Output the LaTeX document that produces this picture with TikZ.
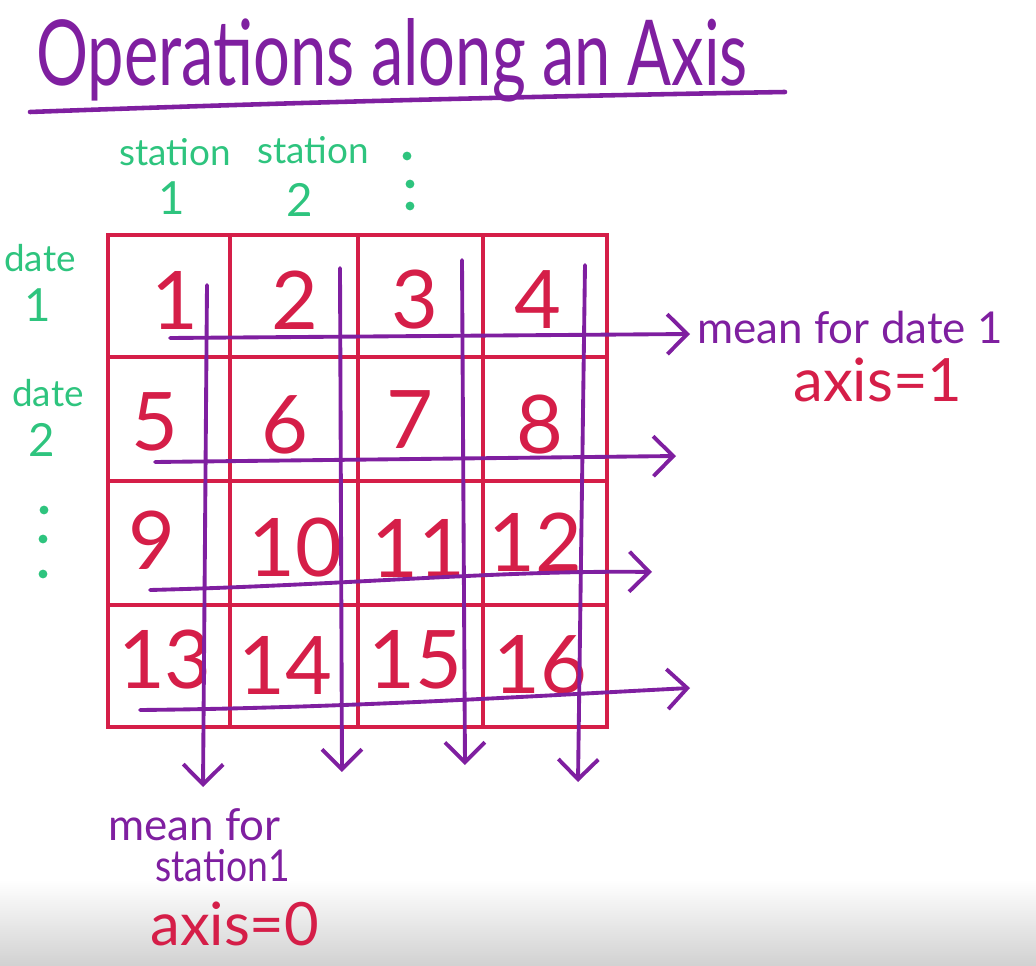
\documentclass[tikz,border=0pt]{standalone}
\usepackage{fontspec}
\setmainfont{Lato}
\usetikzlibrary{arrows.meta,calc}
\definecolor{hpurple}{HTML}{7F1FA0}
\definecolor{hred}{HTML}{D51E48}
\definecolor{hgreen}{HTML}{2EC47E}
\tikzset{
  gridline/.style={draw=hred,line width=2.8pt},
  num/.style={text=hred,font=\fontsize{46}{46}\selectfont,inner sep=0pt},
  lab/.style={text=hgreen,font=\fontsize{21}{21}\selectfont,inner sep=0pt,align=center},
  labn/.style={text=hgreen,font=\fontsize{26}{26}\selectfont,inner sep=0pt},
  gdot/.style={circle,fill=hgreen,inner sep=0pt,minimum size=5pt},
  ptext/.style={text=hpurple,font=\fontsize{25}{28}\selectfont,inner sep=0pt,align=center},
  rtext/.style={text=hred,font=\fontsize{34}{34}\selectfont,inner sep=0pt},
  harrow/.style={draw=hpurple,line width=2.2pt,line cap=round,-{Straight Barb[length=4mm,width=8mm,line width=2.2pt]}},
}
\begin{document}
\begin{tikzpicture}[x=0.02cm,y=-0.02cm]
\useasboundingbox (0,0) rectangle (1036,966);
\shade[top color=white,bottom color=black!18] (0,880) rectangle (1036,966);
% title
\node[text=hpurple,font=\fontsize{37}{37}\selectfont,inner sep=0pt] (title) at (392,60) {\scalebox{1}[1.4]{Operations along an Axis}};
\coordinate (ul1) at (30,112);
\coordinate (ul2) at (785,92);
\draw[hpurple,line width=2.6pt,line cap=round] (ul1) .. controls (300,102) and (550,96) .. (ul2);
% grid
\draw[gridline] (108,235) rectangle (607,727);
\foreach \x in {230,358,483} \draw[gridline] (\x,235) -- (\x,727);
\foreach \y in {357,481,605} \draw[gridline] (108,\y) -- (607,\y);
% numbers
\node[num] (c1) at (175,300) {1};
\node[num] (c2) at (295,300) {2};
\node[num] (c3) at (415,300) {3};
\node[num] (c4) at (538,300) {4};
\node[num] (c5) at (155,422) {5};
\node[num] (c6) at (285,425) {6};
\node[num] (c7) at (410,420) {7};
\node[num] (c8) at (540,425) {8};
\node[num] (c9) at (152,540) {9};
\node[num] (c10) at (295,548) {10};
\node[num] (c11) at (418,548) {11};
\node[num] (c12) at (535,542) {12};
\node[num] (c13) at (165,660) {13};
\node[num] (c14) at (285,665) {14};
\node[num] (c15) at (415,660) {15};
\node[num] (c16) at (540,665) {16};
% green labels
\node[lab] (s1) at (175,152) {station};
\node[labn] (s1n) at (172,198) {1};
\node[lab] (s2) at (313,150) {station};
\node[labn] (s2n) at (300,200) {2};
\node[gdot] (sd1) at (407,156) {};
\node[gdot] (sd2) at (410,184) {};
\node[gdot] (sd3) at (410,206) {};
\node[lab] (d1) at (40,258) {date};
\node[labn] (d1n) at (38,305) {1};
\node[lab] (d2) at (48,393) {date};
\node[labn] (d2n) at (42,440) {2};
\node[gdot] (dd1) at (44,510) {};
\node[gdot] (dd2) at (43,539) {};
\node[gdot] (dd3) at (43,574) {};
% right labels
\node[ptext,anchor=west] (m1) at (697,328) {mean for date 1};
\node[rtext] (a1) at (878,380) {axis=1};
\node[ptext,anchor=west] (m0a) at (108,825) {mean for};
\node[ptext,anchor=west] (m0b) at (155,866) {\scalebox{0.85}[1]{station1}};
\node[rtext,anchor=west] (a0) at (150,924) {axis=0};
% horizontal arrows
\coordinate (h1s) at (170,338); \coordinate (h1e) at (690,334);
\coordinate (h2s) at (155,462); \coordinate (h2e) at (676,456);
\coordinate (h3s) at (150,590); \coordinate (h3e) at (652,572);
\coordinate (h4s) at (140,710); \coordinate (h4e) at (690,688);
\draw[harrow] (h1s) -- (h1e);
\draw[harrow] (h2s) -- (h2e);
\draw[harrow] (h3s) .. controls (350,585) and (500,570) .. (h3e);
\draw[harrow] (h4s) .. controls (350,708) and (550,695) .. (h4e);
% vertical arrows
\coordinate (v1s) at (207,285); \coordinate (v1e) at (203,787);
\coordinate (v2s) at (340,268); \coordinate (v2e) at (342,772);
\coordinate (v3s) at (462,260); \coordinate (v3e) at (465,765);
\coordinate (v4s) at (585,265); \coordinate (v4e) at (578,782);
\draw[harrow] (v1s) -- (v1e);
\draw[harrow] (v2s) -- (v2e);
\draw[harrow] (v3s) -- (v3e);
\draw[harrow] (v4s) -- (v4e);
\end{tikzpicture}
\end{document}
